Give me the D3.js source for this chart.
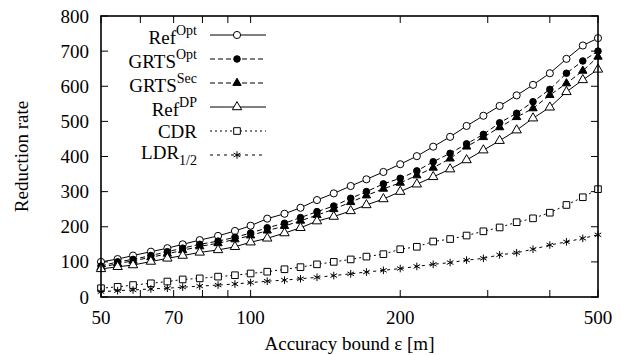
<!DOCTYPE html>
<html>
<head>
<meta charset="utf-8">
<script src="https://cdn.jsdelivr.net/npm/d3@7"></script>
<style>
  body { margin: 0; background: #fff; }
</style>
</head>
<body>
<svg id="chart" width="623" height="355" font-family="'Liberation Serif', 'Times New Roman', serif"></svg>
<script>
// accuracy bound values (x)
const epsValues = [50, 54, 58, 63, 68, 73, 79, 86, 93, 100, 108, 117, 126, 136, 147, 159, 171, 185,
                   200, 216, 233, 252, 272, 294, 317, 343, 370, 400, 432, 466, 500];

const refOpt  = [100, 108, 118, 129, 139, 150, 162, 174, 188, 203, 223, 237, 254, 276, 295, 316, 335,
                 356, 378, 401, 428, 456, 487, 516, 544, 574, 604, 637, 678, 716, 737];
const grtsOpt = [88, 100, 107, 118, 129, 139, 150, 159, 170, 182, 197, 210, 226, 243, 259, 281, 300,
                 322, 338, 359, 385, 409, 436, 463, 496, 523, 556, 591, 637, 672, 700];
const grtsSec = [84, 95, 103, 113, 123, 133, 144, 153, 164, 175, 189, 202, 217, 233, 250, 270, 289,
                 308, 325, 346, 368, 394, 428, 455, 483, 512, 537, 575, 608, 644, 684];
const refDP   = [80, 86, 91, 101, 110, 118, 127, 134, 143, 156, 167, 182, 197, 216, 229, 245, 262,
                 279, 300, 321, 342, 364, 390, 418, 445, 475, 509, 540, 584, 618, 648];
const cdr     = [25, 29, 34, 39, 44, 50, 53, 58, 62, 67, 72, 79, 85, 93, 100, 107, 115, 122, 136,
                 143, 158, 165, 175, 187, 198, 213, 224, 240, 262, 284, 307];
const ldr     = [15, 18, 20, 23, 25, 28, 31, 34, 37, 41, 45, 48, 52, 56, 61, 66, 71, 76, 81, 87,
                 93, 98, 105, 110, 120, 126, 136, 148, 157, 167, 177];

const xTickLabels = [50, 70, 100, 200, 500];
const xTickMarks = [50, 60, 70, 80, 90, 100, 200, 300, 400, 500];
const yTicks = [0, 100, 200, 300, 400, 500, 600, 700, 800];

const series = [
  { base: "Ref",  sup: "Opt", values: refOpt,  dash: null,  symbol: d3.symbolCircle,   size: 40, filled: false },
  { base: "GRTS", sup: "Opt", values: grtsOpt, dash: "5,3", symbol: d3.symbolCircle,   size: 34, filled: true },
  { base: "GRTS", sup: "Sec", values: grtsSec, dash: "5,3", symbol: d3.symbolTriangle, size: 30, filled: true },
  { base: "Ref",  sup: "DP",  values: refDP,   dash: null,  symbol: d3.symbolTriangle, size: 38, filled: false },
  { base: "CDR",              values: cdr,     dash: "2,3", symbol: d3.symbolSquare,   size: 44, filled: false },
  { base: "LDR",  sub: "1/2", values: ldr,     dash: "3,4", symbol: d3.symbolAsterisk, size: 40, filled: false }
];

const svg = d3.select("#chart");
const margin = { left: 101, right: 25, top: 16, bottom: 58 };
const width = 623, height = 355;

const x = d3.scaleLog().domain([50, 500]).range([margin.left, width - margin.right]);
const y = d3.scaleLinear().domain([0, 800]).range([height - margin.bottom, margin.top]);

const x0 = x.range()[0], x1 = x.range()[1];
const y0 = y.range()[0], y1 = y.range()[1];
const tickLen = 7;

// ticks (inward, all four sides)
const ticks = svg.append("g").attr("stroke", "#000").attr("stroke-width", 1);
xTickMarks.forEach(v => {
  ticks.append("line").attr("x1", x(v)).attr("x2", x(v)).attr("y1", y0).attr("y2", y0 - tickLen);
  ticks.append("line").attr("x1", x(v)).attr("x2", x(v)).attr("y1", y1).attr("y2", y1 + tickLen);
});
yTicks.forEach(v => {
  ticks.append("line").attr("x1", x0).attr("x2", x0 + tickLen).attr("y1", y(v)).attr("y2", y(v));
  ticks.append("line").attr("x1", x1).attr("x2", x1 - tickLen).attr("y1", y(v)).attr("y2", y(v));
});

// tick labels
svg.append("g").selectAll("text")
  .data(xTickLabels)
  .join("text")
  .attr("x", d => x(d))
  .attr("y", y0 + 27)
  .attr("text-anchor", "middle")
  .attr("font-size", 19)
  .text(d => d);

svg.append("g").selectAll("text")
  .data(yTicks)
  .join("text")
  .attr("x", x0 - 12)
  .attr("y", d => y(d) + 6.5)
  .attr("text-anchor", "end")
  .attr("font-size", 19)
  .text(d => d);

// axis titles
svg.append("text")
  .attr("transform", `translate(28, ${(y0 + y1) / 2}) rotate(-90)`)
  .attr("text-anchor", "middle")
  .attr("font-size", 19)
  .text("Reduction rate");

svg.append("text")
  .attr("x", (x0 + x1) / 2)
  .attr("y", 350)
  .attr("text-anchor", "middle")
  .attr("font-size", 19)
  .text("Accuracy bound ε [m]");

// lines and markers
const line = d3.line()
  .x((d, i) => x(epsValues[i]))
  .y(d => y(d));

const plot = svg.append("g");
series.forEach(s => {
  plot.append("path")
    .datum(s.values)
    .attr("d", line)
    .attr("fill", "none")
    .attr("stroke", "#000")
    .attr("stroke-width", 1)
    .attr("stroke-dasharray", s.dash);

  plot.append("g").selectAll("path")
    .data(s.values)
    .join("path")
    .attr("transform", (d, i) => `translate(${x(epsValues[i])},${y(d)})`)
    .attr("d", d3.symbol().type(s.symbol).size(s.size))
    .attr("fill", s.filled ? "#000" : (s.symbol === d3.symbolAsterisk ? "none" : "#fff"))
    .attr("stroke", "#000")
    .attr("stroke-width", 1);
});

// legend
const legend = svg.append("g");
series.forEach((s, i) => {
  const ly = 35 + i * 24;
  legend.append("line")
    .attr("x1", 210).attr("x2", 266)
    .attr("y1", ly).attr("y2", ly)
    .attr("stroke", "#000")
    .attr("stroke-width", 1)
    .attr("stroke-dasharray", s.dash);
  legend.append("path")
    .attr("transform", `translate(237,${ly})`)
    .attr("d", d3.symbol().type(s.symbol).size(s.size))
    .attr("fill", s.filled ? "#000" : (s.symbol === d3.symbolAsterisk ? "none" : "#fff"))
    .attr("stroke", "#000");

  const offset = s.sup ? 9 : (s.sub ? 4 : 7);
  const t = legend.append("text")
    .attr("x", 197)
    .attr("y", ly + offset)
    .attr("text-anchor", "end")
    .attr("font-size", 19);
  t.append("tspan").text(s.base);
  if (s.sup) t.append("tspan").attr("font-size", 14).attr("dy", -9).text(s.sup);
  if (s.sub) t.append("tspan").attr("font-size", 14).attr("dy", 6).text(s.sub);
});

// frame
svg.append("rect")
  .attr("x", x0).attr("y", y1)
  .attr("width", x1 - x0).attr("height", y0 - y1)
  .attr("fill", "none")
  .attr("stroke", "#000")
  .attr("stroke-width", 1.6);
</script>
</body>
</html>
